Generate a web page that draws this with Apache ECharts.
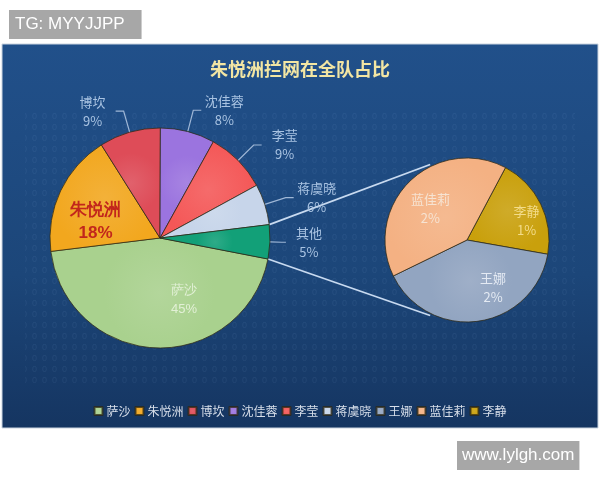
<!DOCTYPE html>
<html>
<head>
<meta charset="utf-8">
<script src="https://cdn.jsdelivr.net/npm/echarts@6/dist/echarts.min.js"></script>
<style>
  html, body { margin: 0; padding: 0; background: #fff; }
  #chart { width: 600px; height: 480px; }
</style>
</head>
<body>
<div id="chart"></div>
<script>
// data
const mainNames = ['萨沙', '朱悦洲', '博坎', '沈佳蓉', '李莹', '蒋虞晓', '其他'];
const mainValues = [45, 18, 9, 8, 9, 6, 5];
const subNames = ['李静', '王娜', '蓝佳莉'];
const subValues = [1, 2, 2];
const legendNames = ['萨沙', '朱悦洲', '博坎', '沈佳蓉', '李莹', '蒋虞晓', '王娜', '蓝佳莉', '李静'];

const colors = {
    '萨沙': '#a9d18e',
    '朱悦洲': '#f2a71e',
    '博坎': '#de4c58',
    '沈佳蓉': '#9b74df',
    '李莹': '#f45757',
    '蒋虞晓': '#c7d5ea',
    '其他': '#12a078',
    '王娜': '#92a5c1',
    '蓝佳莉': '#f4b183',
    '李静': '#c9a00c'
};

const mainCenter = [160, 238], mainR = 110;
const subCenter = [467, 240], subR = 82;
const mainStart = -11, subStart = 62;
const FONT = '"Noto Sans CJK SC", "Noto Sans", sans-serif';

function shade(c) {
    return {
        type: 'radial', x: 0.5, y: 0.5, r: 0.5,
        colorStops: [
            { offset: 0, color: echarts.color.lift(c, 0.12) },
            { offset: 1, color: c }
        ]
    };
}

function pt(c, r, deg) {
    let a = deg * Math.PI / 180;
    return [c[0] + r * Math.cos(a), c[1] - r * Math.sin(a)];
}

const outLabel = {
    formatter: '{t|{b}}\n{t|{c}%}',
    distanceToLabelLine: 2,
    rich: { t: { width: 42, align: 'center', color: '#a9c3e2', fontSize: 13, lineHeight: 19, fontFamily: FONT } }
};

let mainData = mainNames.map((n, i) => {
    let d = { name: n, value: mainValues[i], itemStyle: { color: shade(colors[n]) } };
    if (n === '萨沙') {
        d.label = { position: 'inside', formatter: '{b}\n{c}%', color: '#e2f0d6', fontSize: 13, lineHeight: 19, offset: [26, 4] };
        d.labelLine = { show: false };
    } else if (n === '朱悦洲') {
        d.label = { position: 'inside', formatter: '{b}\n{c}%', color: '#c2261c', fontSize: 17, fontWeight: 'bold', lineHeight: 23, offset: [-12, 9] };
        d.labelLine = { show: false };
    } else if (n === '其他') {
        d.labelLine = { length: 12, length2: 4 };
    }
    return d;
});

let subData = subNames.map((n, i) => {
    let d = { name: n, value: subValues[i], itemStyle: { color: shade(colors[n]) } };
    if (n === '李静') d.label = { color: '#f3dc8a', offset: [20, 0] };
    if (n === '王娜') d.label = { color: '#e4eaf3', offset: [20, 4] };
    if (n === '蓝佳莉') d.label = { offset: [-6, 0] };
    return d;
});

// connector lines between "其他" slice and the second pie
let total = mainValues.reduce((a, b) => a + b, 0);
let otherSpan = mainValues[mainNames.indexOf('其他')] / total * 360;
let p1 = pt(mainCenter, mainR, mainStart + otherSpan);
let p2 = pt(mainCenter, mainR, mainStart);
let q1 = pt(subCenter, subR + 2, 116);
let q2 = pt(subCenter, subR + 2, 244);

// faint dotted texture
let tex = document.createElement('canvas');
tex.width = 10; tex.height = 11;
let tc = tex.getContext('2d');
tc.fillStyle = 'rgba(150,185,230,0.16)';
tc.font = '9px sans-serif';
tc.fillText('0', 2, 9);

let chart = echarts.init(document.getElementById('chart'));
chart.setOption({
    backgroundColor: '#ffffff',
    animation: false,
    title: {
        text: '朱悦洲拦网在全队占比',
        left: 'center',
        top: 55,
        textStyle: { color: '#f3e6a3', fontSize: 18, fontWeight: 'bold', fontFamily: FONT }
    },
    legend: {
        data: legendNames,
        top: 400,
        left: 'center',
        icon: 'rect',
        itemWidth: 8,
        itemHeight: 8,
        itemGap: 4,
        textStyle: { color: '#d8dfea', fontSize: 12, fontFamily: FONT, padding: [0, 0, 0, -1] }
    },
    graphic: [
        {
            type: 'rect', z: -10, silent: true,
            shape: { x: 2, y: 44, width: 596, height: 384 },
            style: {
                fill: { type: 'linear', x: 0, y: 0, x2: 0, y2: 1, colorStops: [
                    { offset: 0, color: '#21508a' },
                    { offset: 0.6, color: '#1c4679' },
                    { offset: 1, color: '#153561' }
                ] },
                stroke: '#c9d3df', lineWidth: 1
            }
        },
        {
            type: 'rect', z: -9, silent: true,
            shape: { x: 25, y: 110, width: 550, height: 275 },
            style: { fill: { image: tex, repeat: 'repeat' }, opacity: 0.6 }
        },
        {
            type: 'line', z: 1, silent: true,
            shape: { x1: p1[0], y1: p1[1], x2: q1[0], y2: q1[1] },
            style: { stroke: '#c8daf0', lineWidth: 1.8 }
        },
        {
            type: 'line', z: 1, silent: true,
            shape: { x1: p2[0], y1: p2[1], x2: q2[0], y2: q2[1] },
            style: { stroke: '#c8daf0', lineWidth: 1.8 }
        },
        {
            type: 'text', left: 9, top: 10, z: 5,
            style: {
                text: 'TG: MYYJJPP', fill: '#ffffff', fontSize: 17, fontFamily: '"Liberation Sans", Arial, sans-serif',
                backgroundColor: '#a7a7a7', padding: [6, 17, 6, 6]
            }
        },
        {
            type: 'text', left: 457, top: 441, z: 5,
            style: {
                text: 'www.lylgh.com', fill: '#ffffff', fontSize: 17, fontFamily: '"Liberation Sans", Arial, sans-serif',
                backgroundColor: '#a7a7a7', padding: [6, 5, 6, 5]
            }
        }
    ],
    series: [
        {
            type: 'pie',
            center: mainCenter,
            radius: mainR,
            startAngle: mainStart,
            clockwise: true,
            avoidLabelOverlap: false,
            itemStyle: { borderColor: 'rgba(45,40,20,0.75)', borderWidth: 1 },
            label: outLabel,
            labelLine: { length: 22, length2: 8, lineStyle: { color: '#9fb7d6', width: 1.2 } },
            data: mainData
        },
        {
            type: 'pie',
            center: subCenter,
            radius: subR,
            startAngle: subStart,
            clockwise: true,
            itemStyle: { borderColor: 'rgba(45,40,20,0.75)', borderWidth: 1 },
            label: { position: 'inside', formatter: '{b}\n{c}%', fontSize: 13, lineHeight: 19, fontFamily: FONT, color: '#f6e3d2' },
            labelLine: { show: false },
            data: subData
        }
    ]
});
</script>
</body>
</html>
